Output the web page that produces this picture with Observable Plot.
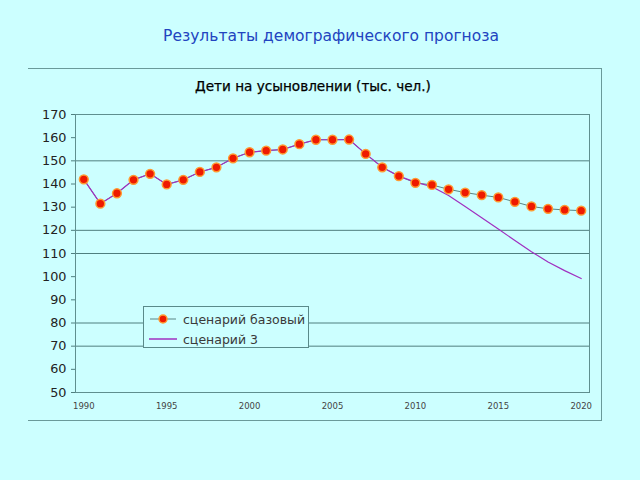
<!DOCTYPE html>
<html>
<head>
<meta charset="utf-8">
<script src="https://cdn.jsdelivr.net/npm/d3@7"></script>
<script src="https://cdn.jsdelivr.net/npm/@observablehq/plot@0.6"></script>
<style>
  html, body { margin: 0; padding: 0; background: #ccffff; }
  #page { position: relative; width: 640px; height: 480px; background: #ccffff; font-family: "DejaVu Sans", sans-serif; overflow: hidden; }
  #title { position: absolute; left: 0; width: 662px; top: 27px; text-align: center; font-size: 15.5px; color: #2244c0; }
  #box { position: absolute; left: 28px; top: 68px; width: 573px; height: 351px; border-top: 1px solid #6a9a9a; border-right: 1px solid #6a9a9a; border-bottom: 1px solid #6a9a9a; }
  #subtitle { position: absolute; left: 26px; width: 574px; top: 78px; text-align: center; font-size: 13.6px; color: #000; -webkit-text-stroke: 0.25px #000; }
  #chart { position: absolute; left: 0; top: 100px; }
  #legend { position: absolute; left: 143px; top: 306px; width: 164px; height: 40px; border: 1px solid #5a8a8a; background: #ccffff; font-size: 12.5px; color: #3a3a3a; }
  .item { position: absolute; left: 4px; height: 16px; display: flex; align-items: center; }
  .item svg { margin-right: 5px; }
</style>
</head>
<body>
<div id="page">
  <div id="title">Результаты демографического прогноза</div>
  <div id="box"></div>
  <div id="subtitle">Дети на усыновлении (тыс. чел.)</div>
  <div id="chart"></div>
  <div id="legend"></div>
</div>
<script>
const years = d3.range(1990, 2021);
const baseValues = [142, 131.5, 136, 141.8, 144.4, 139.8, 141.8, 145.2, 147.2, 151.1,
  153.7, 154.4, 154.9, 157.2, 159.1, 159.1, 159.2, 153.0, 147.2, 143.4,
  140.5, 139.6, 137.7, 136.3, 135.2, 134.2, 132.3, 130.3, 129.3, 128.8, 128.5];
const scenario3Values = [142, 131.5, 136, 141.8, 144.4, 139.8, 141.8, 145.2, 147.2, 151.1,
  153.7, 154.4, 154.9, 157.2, 159.1, 159.1, 159.2, 153.0, 147.2, 143.4,
  140.8, 138.8, 135.0, 130.3, 125.4, 120.6, 115.6, 110.8, 106.3, 102.6, 99.2];
const xTicks = [1990, 1995, 2000, 2005, 2010, 2015, 2020];
const yTicks = d3.range(50, 171, 10);
const gridValues = [150, 120, 110, 80, 70];
const seriesNames = ["сценарий базовый", "сценарий 3"];

const base = years.map((y, i) => ({year: y, value: baseValues[i]}));
const sc3 = years.map((y, i) => ({year: y, value: scenario3Values[i]}));

const gridColor = "#4f7f7f";
const baseLine = "#5a8585";
const purple = "#a030c0";
const dotFill = "#ee1a00";
const dotStroke = "#ff9a30";

const chart = Plot.plot({
  width: 640,
  height: 320,
  marginLeft: 75,
  marginRight: 51,
  marginTop: 14,
  marginBottom: 28,
  style: {background: "transparent", fontFamily: "DejaVu Sans, sans-serif"},
  x: {domain: [1989.5, 2020.5], ticks: xTicks, tickFormat: d => String(d), label: null},
  y: {domain: [50, 170], ticks: yTicks, label: null},
  marks: [
    Plot.ruleY(gridValues, {stroke: gridColor, strokeWidth: 1, strokeOpacity: 1}),
    Plot.frame({stroke: "#5f8f8f", strokeWidth: 1}),
    Plot.axisX({ticks: xTicks, tickFormat: d => String(d), tickSize: 0, tickPadding: 10, fontSize: 8.5, fill: "#444", label: null}),
    Plot.axisY({ticks: yTicks, tickSize: 4, tickPadding: 5, fontSize: 12.8, fill: "#222", stroke: gridColor, label: null}),
    Plot.line(base, {x: "year", y: "value", stroke: baseLine, strokeWidth: 1}),
    Plot.line(sc3, {x: "year", y: "value", stroke: purple, strokeWidth: 1.2}),
    Plot.dot(base, {x: "year", y: "value", r: 4.4, fill: dotFill, stroke: dotStroke, strokeWidth: 1.5})
  ]
});
document.getElementById("chart").appendChild(chart);

const legend = document.getElementById("legend");
seriesNames.forEach((name, i) => {
  const item = document.createElement("div");
  item.className = "item";
  item.style.top = (4 + i * 20) + "px";
  const sw = i === 0
    ? `<svg width="30" height="14"><line x1="2" y1="7" x2="28" y2="7" stroke="${baseLine}" stroke-width="1"/><circle cx="15" cy="7" r="4" fill="${dotFill}" stroke="${dotStroke}" stroke-width="1.5"/></svg>`
    : `<svg width="30" height="14"><line x1="1" y1="7" x2="29" y2="7" stroke="${purple}" stroke-width="1.5"/></svg>`;
  item.innerHTML = sw + `<span>${name}</span>`;
  legend.appendChild(item);
});
</script>
</body>
</html>
